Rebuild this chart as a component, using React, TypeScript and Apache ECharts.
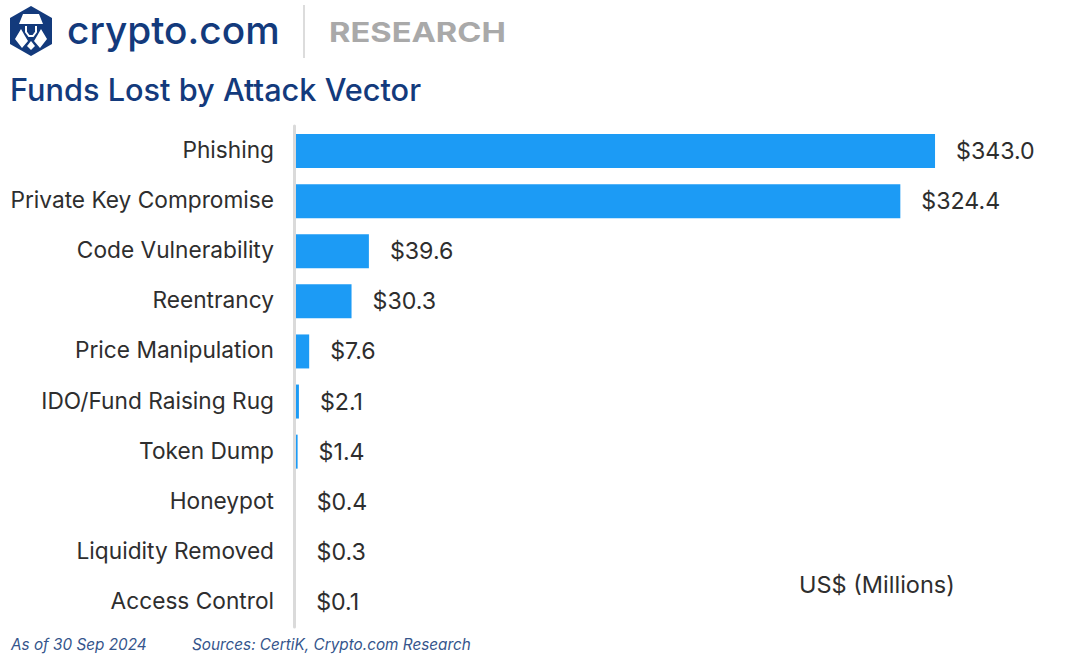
import React, { useEffect, useRef } from "react";
import * as echarts from "echarts";

const categories = [
  "Phishing",
  "Private Key Compromise",
  "Code Vulnerability",
  "Reentrancy",
  "Price Manipulation",
  "IDO/Fund Raising Rug",
  "Token Dump",
  "Honeypot",
  "Liquidity Removed",
  "Access Control",
];
const lossValues = [343.0, 324.4, 39.6, 30.3, 7.6, 2.1, 1.4, 0.4, 0.3, 0.1];

const FONT = "Inter, 'Noto Sans', sans-serif";
const NAVY = "#133a7c";
const BAR_BLUE = "#1c9bf5";
const INK = "#2e2e2e";

export default function App() {
  const ref = useRef<HTMLDivElement | null>(null);

  useEffect(() => {
    const chart = echarts.init(ref.current!, null, { renderer: "svg" });
    chart.setOption({
      animation: false,
      backgroundColor: "#ffffff",
      grid: { left: 295, right: 0, top: 126, bottom: 34 },
      xAxis: { type: "value", min: 0, max: 416.4, show: false },
      yAxis: {
        type: "category",
        inverse: true,
        data: categories,
        offset: 1,
        z: 5,
        axisTick: { show: false },
        axisLine: {
          show: true,
          onZero: false,
          lineStyle: { color: "#dadada", width: 3 },
        },
        axisLabel: {
          margin: 20,
          formatter: (name: string) => `{t|${name}}`,
          rich: {
            t: {
              color: INK,
              fontFamily: FONT,
              fontSize: 22.7,
              padding: [0, 0, 3, 0],
            },
          },
        },
      },
      series: [
        {
          type: "bar",
          data: lossValues,
          barWidth: 34,
          itemStyle: { color: BAR_BLUE },
          label: {
            show: true,
            position: "right",
            distance: 21,
            color: INK,
            fontFamily: FONT,
            fontSize: 23.2,
            formatter: (p: any) => "$" + p.value.toFixed(1),
          },
        },
      ],
      graphic: [
        // brand mark: hexagon with a simplified lion face
        {
          type: "polygon",
          shape: { points: [[31, 6], [52, 18], [52, 44], [31, 56], [10, 44], [10, 18]] },
          style: { fill: NAVY },
        },
        {
          type: "polygon",
          shape: { points: [[23, 14], [39, 14], [43, 24], [19, 24]] },
          style: { fill: "#ffffff" },
        },
        {
          type: "polyline",
          shape: { points: [[26, 26], [26, 32], [29, 36], [33, 36], [36, 32], [36, 26]] },
          style: { stroke: "#ffffff", lineWidth: 2, fill: "none" },
        },
        {
          type: "polygon",
          shape: { points: [[21, 29], [25, 36], [28, 41], [22, 48], [15, 39]] },
          style: { fill: "#ffffff" },
        },
        {
          type: "polygon",
          shape: { points: [[41, 29], [37, 36], [34, 41], [40, 48], [47, 39]] },
          style: { fill: "#ffffff" },
        },
        {
          type: "polygon",
          shape: { points: [[31, 41], [35, 46], [31, 50], [27, 46]] },
          style: { fill: "#ffffff" },
        },
        {
          type: "text",
          x: 67,
          y: 29,
          style: {
            text: "crypto.com",
            font: `500 38.8px ${FONT}`,
            fill: NAVY,
            verticalAlign: "middle",
          },
        },
        {
          type: "rect",
          shape: { x: 303, y: 5, width: 2, height: 53 },
          style: { fill: "#dcdcdc" },
        },
        {
          type: "text",
          x: 329,
          y: 32,
          scaleX: 1.21,
          style: {
            text: "RESEARCH",
            font: `700 27px ${FONT}`,
            fill: "#a9a9a9",
            verticalAlign: "middle",
          },
        },
        {
          type: "text",
          x: 10,
          y: 89,
          style: {
            text: "Funds Lost by Attack Vector",
            font: `500 30.7px ${FONT}`,
            fill: NAVY,
            verticalAlign: "middle",
          },
        },
        {
          type: "text",
          x: 799,
          y: 584,
          style: {
            text: "US$ (Millions)",
            font: `400 23.5px ${FONT}`,
            fill: INK,
            verticalAlign: "middle",
          },
        },
        {
          type: "text",
          x: 11,
          y: 644,
          style: {
            text: "As of 30 Sep 2024",
            font: `italic 400 15.3px ${FONT}`,
            fill: "#35558c",
            verticalAlign: "middle",
          },
        },
        {
          type: "text",
          x: 192,
          y: 644,
          style: {
            text: "Sources: CertiK, Crypto.com Research",
            font: `italic 400 15.3px ${FONT}`,
            fill: "#35558c",
            verticalAlign: "middle",
          },
        },
      ],
    });
    return () => chart.dispose();
  }, []);

  return (
    <div
      ref={ref}
      style={{ position: "fixed", left: 0, top: 0, width: 1072, height: 661 }}
    />
  );
}
